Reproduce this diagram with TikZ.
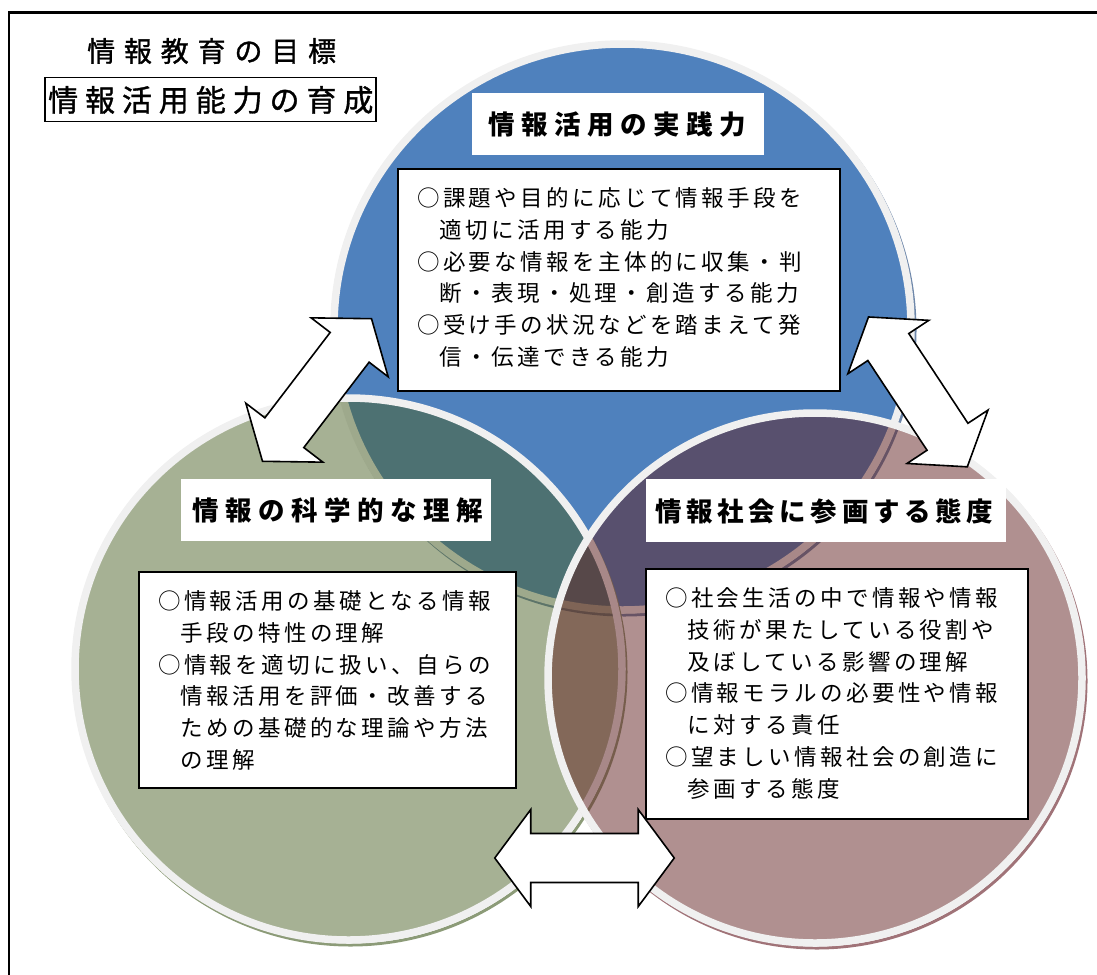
\documentclass[tikz,border=0pt]{standalone}
\usepackage{fontspec}
\newfontfamily\jptop[LetterSpace=31.5,FakeBold=1.2]{Noto Sans CJK JP}
\newfontfamily\jpgoal[LetterSpace=23,FakeBold=1.2]{Noto Sans CJK JP}
\newfontfamily\jptitle[LetterSpace=24.5]{Noto Sans CJK JP}
\newfontfamily\jptitlep[LetterSpace=17.5]{Noto Sans CJK JP}
\newfontfamily\jpbody[LetterSpace=15]{Noto Sans CJK JP}
\definecolor{cblue}{RGB}{79,129,189}
\definecolor{cgreen}{RGB}{77,99,41}
\definecolor{cpink}{RGB}{97,33,33}
\definecolor{ringc}{RGB}{240,240,240}
\definecolor{shblue}{RGB}{110,135,170}
\definecolor{shgreen}{RGB}{140,155,120}
\definecolor{shpink}{RGB}{160,115,120}
\tikzset{
  ringline/.style={draw=ringc, line width=7.5},
  shadowline/.style={line width=3},
  arrowshape/.style={draw=black, fill=white, line width=1.6, line join=miter},
  dblarrow/.pic={\draw[arrowshape] (-89.75,0) -- (-53.75,-48.5) -- (-53.75,-24.5) -- (53.75,-24.5) -- (53.75,-48.5) -- (89.75,0) -- (53.75,48.5) -- (53.75,24.5) -- (-53.75,24.5) -- (-53.75,48.5) -- cycle;},
  titlebox/.style={fill=white, inner sep=0},
  textbox/.style={draw=black, fill=white, line width=1.5, inner sep=0},
  titletext/.style={anchor=west, inner sep=0, font={\jptitle\bfseries\fontsize{26.5}{30}\selectfont}},
  bodytext/.style={anchor=west, inner sep=0, align=left, font={\jpbody\fontsize{22.5}{31.8}\selectfont}}
}
\newcommand{\ind}{\phantom{○}}
\begin{document}
\begin{tikzpicture}[x=1pt,y=-1pt]
\useasboundingbox (0,0) rectangle (1097,974);
% frame
\draw[line width=2.2] (9,990) -- (9,12.5) -- (1110,12.5);

% blue circle
\draw[shadowline, shblue] (624.5,330) ellipse [x radius=290.5, y radius=285];
\fill[cblue] (622.5,327) ellipse [x radius=288.5, y radius=283];
\draw[ringline] (622.5,327) ellipse [x radius=288.5, y radius=283];
% green circle
\draw[shadowline, shgreen] (350.5,672) ellipse [x radius=275.5, y radius=273];
\fill[cgreen, fill opacity=.5] (348.5,669) ellipse [x radius=273.5, y radius=271];
\draw[ringline] (348.5,669) ellipse [x radius=273.5, y radius=271];
% pink circle
\draw[shadowline, shpink] (817,681) ellipse [x radius=269, y radius=267];
\fill[cpink, fill opacity=.5] (815,678) ellipse [x radius=267, y radius=265];
\draw[ringline] (815,678) ellipse [x radius=267, y radius=265];

% double arrows
\pic[rotate=52.6] (arrL) at (317,390) {dblarrow};
\pic[rotate=-56.6] (arrR) at (917.9,391.9) {dblarrow};
\pic (arrB) at (584.5,858) {dblarrow};

% title boxes
\node[titlebox, minimum width=292, minimum height=62] (tblue) at (618,124) {};
\node[titletext] (tbluet) at (488,124) {情報活用の実践力};
\node[titlebox, minimum width=310, minimum height=62] (tgreen) at (336,510) {};
\node[titletext] (tgreent) at (192,510) {情報の科学的な理解};
\node[titlebox, minimum width=360, minimum height=63] (tpink) at (826,510.5) {};
\node[titletext, font={\jptitlep\bfseries\fontsize{26.5}{30}\selectfont}] (tpinkt) at (655,511) {情報社会に参画する態度};

% text boxes
\node[textbox, minimum width=442, minimum height=222] (bblue) at (619,280) {};
\node[bodytext] (bbluet) at (417,277.5) {○課題や目的に応じて情報手段を\\\ind 適切に活用する能力\\○必要な情報を主体的に収集・判\\\ind 断・表現・処理・創造する能力\\○受け手の状況などを踏まえて発\\\ind 信・伝達できる能力};
\node[textbox, minimum width=377, minimum height=216] (bgreen) at (327.5,680) {};
\node[bodytext] (bgreent) at (158,680.5) {○情報活用の基礎となる情報\\\ind 手段の特性の理解\\○情報を適切に扱い、自らの\\\ind 情報活用を評価・改善する\\\ind ための基礎的な理論や方法\\\ind の理解};
\node[textbox, minimum width=382, minimum height=250] (bpink) at (837,694) {};
\node[bodytext] (bpinkt) at (665,693.5) {○社会生活の中で情報や情報\\\ind 技術が果たしている役割や\\\ind 及ぼしている影響の理解\\○情報モラルの必要性や情報\\\ind に対する責任\\○望ましい情報社会の創造に\\\ind 参画する態度};

% heading
\node[anchor=west, inner sep=0, font={\jptop\fontsize{28}{28}\selectfont}] (goal) at (87,51) {情報教育の目標};
\node[draw=black, line width=1.5, minimum width=331, minimum height=44, inner sep=0] (abilitybox) at (210.5,99.5) {};
\node[anchor=west, inner sep=0, font={\jpgoal\fontsize{30}{30}\selectfont}] (ability) at (48,100) {情報活用能力の育成};
\end{tikzpicture}
\end{document}
